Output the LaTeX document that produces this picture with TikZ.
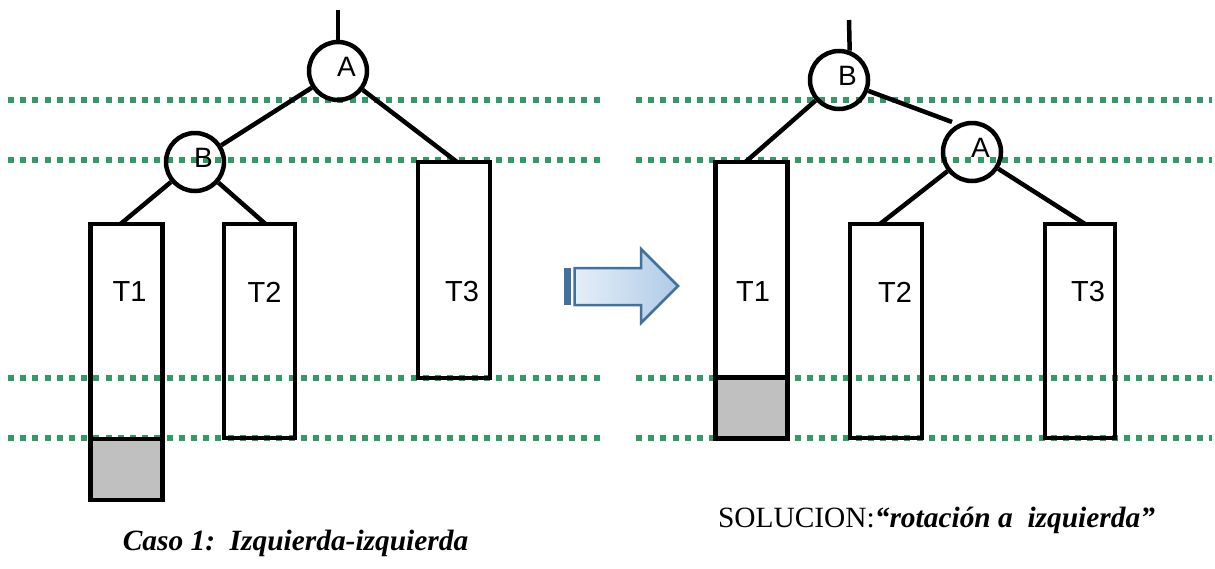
\documentclass[tikz,border=0pt]{standalone}
\usepackage{fontspec}
\setmainfont{Liberation Serif}
\newfontfamily\arialfont{Liberation Sans}
\usetikzlibrary{positioning}
\definecolor{levelgreen}{HTML}{339966}
\definecolor{arrowblue}{HTML}{41719C}
\definecolor{arrowlight}{HTML}{E6EEF7}
\definecolor{arrowmid}{HTML}{AFCBE8}
\definecolor{shadegray}{HTML}{C0C0C0}
\frenchspacing

\begin{document}
\begin{tikzpicture}[x=1pt,y=-1pt,line width=4.5pt,
  level/.style={levelgreen,line width=6pt,dash pattern=on 6pt off 6.2pt},
  vertex/.style={circle,draw,minimum size=58pt,inner sep=0pt},
  vlabel/.style={font=\arialfont\fontsize{28}{30}\selectfont,xshift=8.5pt,yshift=4pt},
  subtree/.style={rectangle,draw,inner sep=0pt,outer sep=0pt,anchor=north west},
  tlabel/.style={font=\arialfont\fontsize{29}{32}\selectfont},
  caption/.style={anchor=base,font=\fontsize{29.4}{34}\selectfont}]
\useasboundingbox (0,0) rectangle (1215,568);

% Height levels
\foreach \yy in {100,160,378,438}
{
    \draw[level] (8,\yy) -- (600,\yy);
    \draw[level] (636,\yy) -- (1212,\yy);
}

% Left: Caso 1
\coordinate (topL) at (338,10);
\node[vertex,label={[vlabel]center:A}] (AL) at (338,71) {};
\node[vertex,label={[vlabel]center:B}] (BL) at (195,162) {};
\node[subtree,minimum width=72pt,minimum height=215pt] (T1L) at (90.5,224) {};
\node[subtree,fill=shadegray,minimum width=72pt,minimum height=61pt,below=0pt of T1L] (T1Lx) {};
\node[subtree,minimum width=71pt,minimum height=214pt] (T2L) at (224,224) {};
\node[subtree,minimum width=72pt,minimum height=216pt] (T3L) at (418,162) {};
\node[tlabel] (t1L) at (129.5,292) {T1};
\node[tlabel] (t2L) at (264.5,292) {T2};
\node[tlabel] (t3L) at (462,292) {T3};
\draw (topL) -- (AL);
\draw (AL) -- (BL);
\draw (AL) -- ([xshift=3pt]T3L.north);
\draw (BL) -- ([xshift=-6pt]T1L.north);
\draw (BL) -- ([xshift=6pt]T2L.north);

% Arrow
\fill[arrowblue] (564,268) rectangle (571,305);
\draw[arrowblue,line width=2.5pt,line join=miter,left color=arrowlight,right color=arrowmid]
    (574.5,268) -- (641,268) -- (641,249) -- (678,286) -- (641,323) -- (641,305) -- (574.5,305) -- cycle;

% Right: after rotation
\coordinate (topR) at (849,20);
\coordinate (gapA) at (952,122);
\node[vertex,label={[vlabel]center:B}] (BR) at (839,80) {};
\node[vertex,label={[vlabel]center:A}] (AR) at (972,152) {};
\node[subtree,minimum width=72pt,minimum height=215.5pt] (T1R) at (715.5,162) {};
\node[subtree,fill=shadegray,minimum width=72pt,minimum height=61pt,below=0pt of T1R] (T1Rx) {};
\node[subtree,minimum width=72pt,minimum height=214pt] (T2R) at (850,224) {};
\node[subtree,minimum width=70pt,minimum height=214pt] (T3R) at (1045,224) {};
\node[tlabel] (t1R) at (753,292) {T1};
\node[tlabel] (t2R) at (895,292) {T2};
\node[tlabel] (t3R) at (1088,292) {T3};
\draw (topR) -- (BR.70);
\draw (BR) -- (gapA);
\draw (BR) -- ([xshift=-6pt]T1R.north);
\draw (AR) -- ([xshift=-6pt]T2R.north);
\draw (AR) -- ([xshift=5pt]T3R.north);

% Captions
\node[caption] (capL) at (295.5,550) {\bfseries\itshape Caso 1:\ \ Izquierda-izquierda};
\node[caption] (capR) at (936.5,527) {SOLUCION:{\bfseries\itshape “rotación a\ \ izquierda”}};
\end{tikzpicture}
\end{document}
